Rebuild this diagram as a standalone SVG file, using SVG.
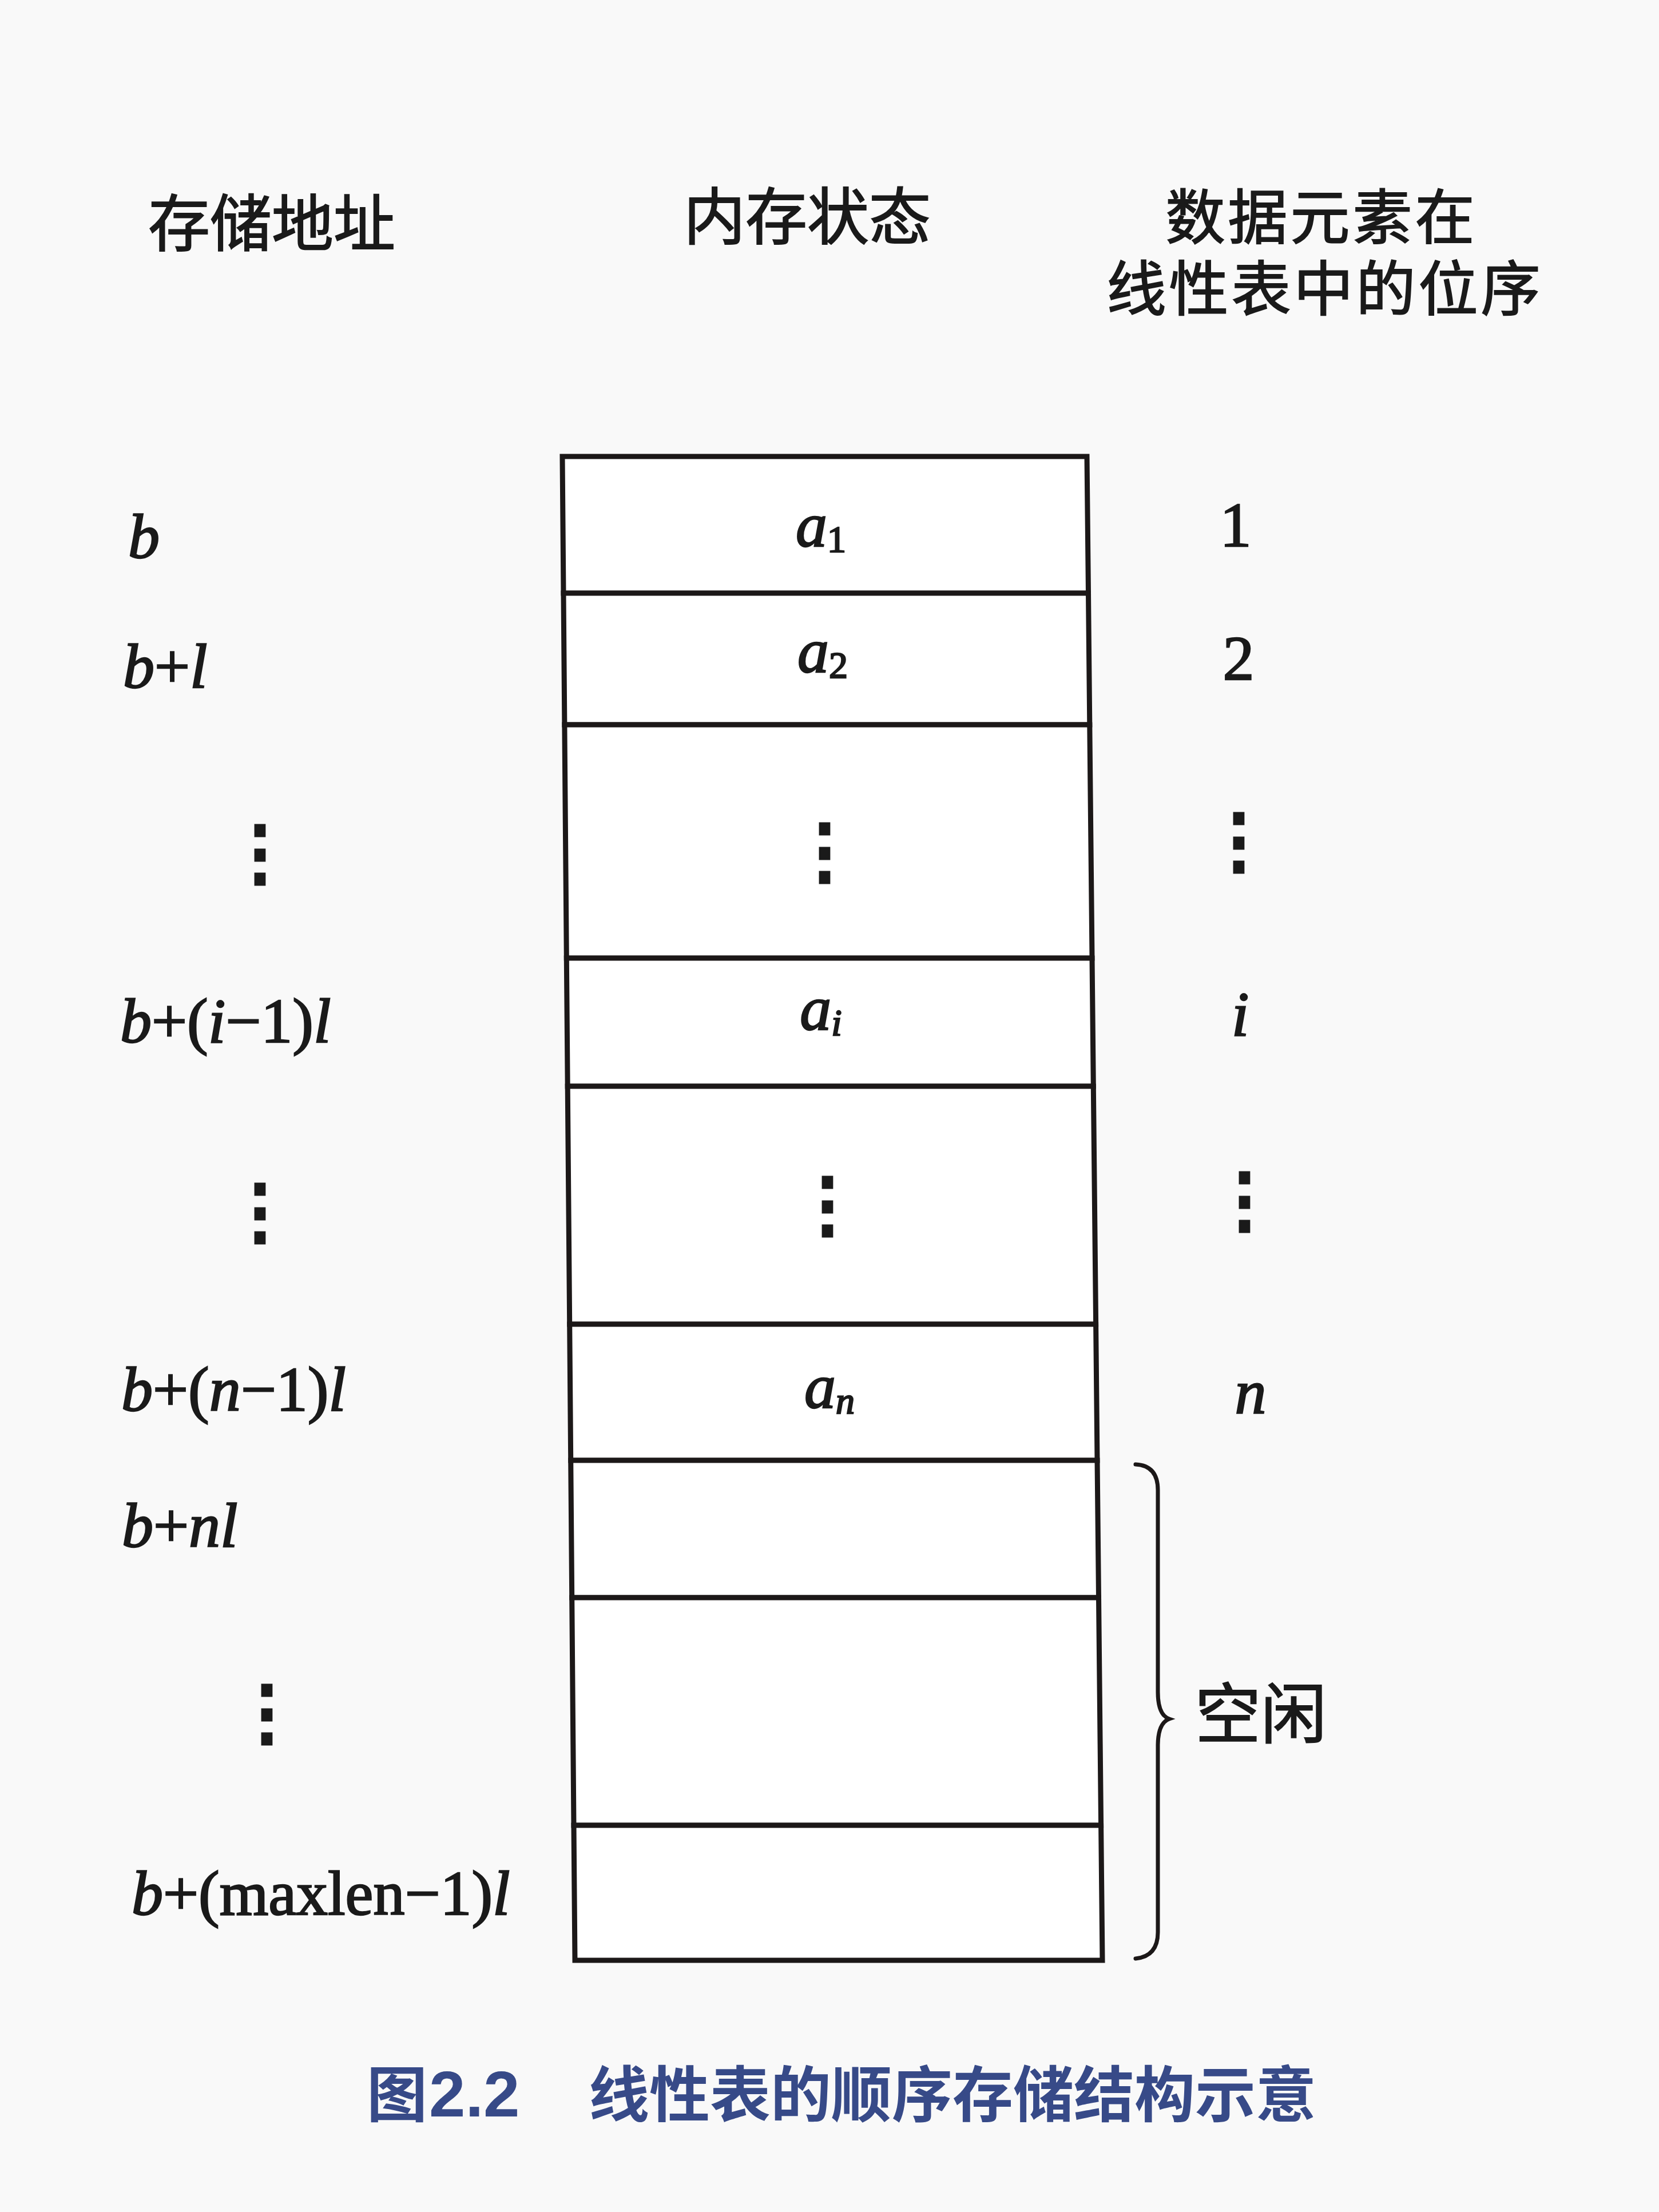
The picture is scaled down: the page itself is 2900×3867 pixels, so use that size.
<svg xmlns="http://www.w3.org/2000/svg" width="2900" height="3867" viewBox="0 0 2900 3867">
<style>
.hd{font-family:"Liberation Sans","Noto Sans CJK SC",sans-serif;font-size:108px;fill:#1a1a1a;stroke:#1a1a1a;stroke-width:2;text-anchor:middle}
.hd2{font-size:104px;letter-spacing:5px}
.ser{font-family:"Liberation Serif","Times New Roman",serif;font-size:110px;fill:#1a1a1a;stroke:#1a1a1a;stroke-width:2.5}
.it{font-style:italic}
.mid{text-anchor:middle}
.dots{font-family:"Noto Sans CJK SC",sans-serif;font-size:125px;font-weight:bold;fill:#1a1a1a;stroke:#1a1a1a;stroke-width:3;text-anchor:middle}
.cell{fill:#ffffff;stroke:#1c1818;stroke-width:9;stroke-linejoin:miter}
.brace{fill:none;stroke:#1c1818;stroke-width:7;stroke-linecap:round}
.cap{font-family:"Liberation Sans","Noto Sans CJK SC",sans-serif;font-size:106px;font-weight:bold;fill:#374a88}
</style>
<rect x="0" y="0" width="2900" height="3867" fill="#f9f9f9"/>

<g id="headers">
<text class="hd" x="475" y="430">存储地址</text>
<text class="hd" x="1411" y="418">内存状态</text>
<text class="hd hd2"><tspan x="2310" y="418">数据元素在</tspan><tspan x="2316" y="543">线性表中的位序</tspan></text>
</g>

<g id="memory">
<g id="cell-a1"><polygon class="cell" points="983,798 1900,798 1902.5,1037 985,1037"/>
<text class="ser mid" x="1435" y="955"><tspan class="it">a</tspan><tspan font-size="66" dy="10">1</tspan></text></g>
<g id="cell-a2"><polygon class="cell" points="985,1037 1902.5,1037 1904.8,1267 986.9,1267"/>
<text class="ser mid" x="1438" y="1175"><tspan class="it">a</tspan><tspan font-size="66" dy="10">2</tspan></text></g>
<g id="cell-gap1"><polygon class="cell" points="986.9,1267 1904.8,1267 1909,1675 990.3,1675"/>
<text class="dots" x="1441" y="1530">⋮</text></g>
<g id="cell-ai"><polygon class="cell" points="990.3,1675 1909,1675 1911.3,1899 992.2,1899"/>
<text class="ser mid" x="1435" y="1800"><tspan class="it">a</tspan><tspan class="it" font-size="66" dy="10">i</tspan></text></g>
<g id="cell-gap2"><polygon class="cell" points="992.2,1899 1911.3,1899 1915.6,2315 995.7,2315"/>
<text class="dots" x="1446" y="2148">⋮</text></g>
<g id="cell-an"><polygon class="cell" points="995.7,2315 1915.6,2315 1918,2553 997.7,2553"/>
<text class="ser mid" x="1450" y="2461"><tspan class="it">a</tspan><tspan class="it" font-size="66" dy="10">n</tspan></text></g>
<g id="cell-free1"><polygon class="cell" points="997.7,2553 1918,2553 1920.5,2793 999.7,2793"/></g>
<g id="cell-free2"><polygon class="cell" points="999.7,2793 1920.5,2793 1924.6,3191 1003,3191"/></g>
<g id="cell-free3"><polygon class="cell" points="1003,3191 1924.6,3191 1927,3427 1005,3427"/></g>
</g>

<g id="addresses">
<text class="ser" x="224" y="975"><tspan class="it">b</tspan></text>
<text class="ser" x="215" y="1202"><tspan class="it">b</tspan>+<tspan class="it">l</tspan></text>
<text class="dots" x="454" y="1533">⋮</text>
<text class="ser" x="210" y="1822"><tspan class="it">b</tspan>+(<tspan class="it">i</tspan>−1)<tspan class="it">l</tspan></text>
<text class="dots" x="454" y="2160">⋮</text>
<text class="ser" x="212" y="2466"><tspan class="it">b</tspan>+(<tspan class="it">n</tspan>−1)<tspan class="it">l</tspan></text>
<text class="ser" x="213" y="2704"><tspan class="it">b</tspan>+<tspan class="it">nl</tspan></text>
<text class="dots" x="466" y="3036">⋮</text>
<text class="ser" x="230" y="3347"><tspan class="it">b</tspan>+(maxlen−1)<tspan class="it">l</tspan></text>
</g>

<g id="positions">
<text class="ser mid" x="2160" y="955">1</text>
<text class="ser mid" x="2165" y="1188">2</text>
<text class="dots" x="2165" y="1512">⋮</text>
<text class="ser mid" x="2168" y="1810"><tspan class="it">i</tspan></text>
<text class="dots" x="2175" y="2140">⋮</text>
<text class="ser mid" x="2186" y="2471"><tspan class="it">n</tspan></text>
</g>

<g id="connectors">
<path class="brace" d="M1985,2560 Q2024,2562 2024,2605 L2024,2958 Q2024,2998 2044,3005 Q2024,3012 2024,3052 L2024,3378 Q2024,3420 1985,3424"/>
</g>

<g id="free-label">
<text class="hd" x="2089" y="3038" style="text-anchor:start;font-size:115px">空闲</text>
</g>

<g id="caption">
<text class="cap" x="641" y="3700">图</text>
<text class="cap" x="750" y="3700" style="font-size:114px">2.2</text>
<text class="cap" x="1029" y="3700">线性表的顺序存储结构示意</text>
</g>
</svg>
